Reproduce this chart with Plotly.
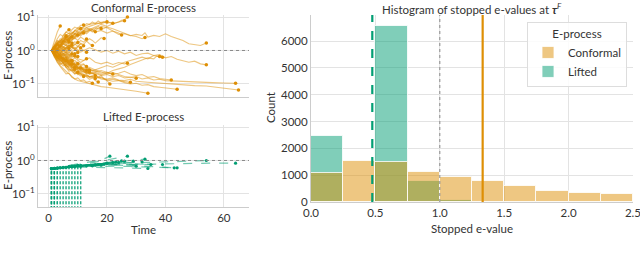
import plotly.graph_objects as go

# ---------------- DATA ----------------
# Conformal e-process paths starting at time 1: log10 e-values at consecutive integer times
conformal_short = [
    [0, 0.3, 0.55, 0.73],
    [0, 0.15, 0.3, 0.25, 0.45, 0.55, 0.5, 0.62, 0.7, 0.66, 0.75, 0.76],
    [0, 0.1, 0.2, 0.12, 0.28, 0.35, 0.3, 0.42, 0.5, 0.45, 0.52, 0.6, 0.55, 0.62, 0.58, 0.56],
    [0, -0.1, -0.2, -0.15, -0.3, -0.38, -0.32, -0.45, -0.5],
    [0, -0.15, -0.28, -0.4, -0.36, -0.5, -0.58, -0.55, -0.65, -0.72, -0.7, -0.78],
    [0, 0.08, 0.0, 0.12, 0.2, 0.15, 0.25],
    [0, -0.05, 0.05, -0.08, 0.02, -0.1, -0.04, -0.15, -0.1],
    [0, 0.12, 0.22, 0.3, 0.26, 0.38, 0.45, 0.4],
    [0, -0.12, -0.05, -0.18, -0.25, -0.2, -0.32, -0.28, -0.38, -0.35, -0.42, -0.4, -0.48],
    [0, -0.18, -0.35, -0.48, -0.6, -0.7, -0.68, -0.8, -0.85, -0.82, -0.9, -0.88, -0.95, -0.92, -0.98],
    [0, 0.05, -0.05, -0.12, -0.08, -0.2, -0.15, -0.28, -0.22, -0.3, -0.36, -0.3, -0.25],
    [0, 0.1, 0.05, 0.18, 0.12, 0.05, 0.15, 0.1, 0.2, 0.12, 0.08],
    [0, -0.08, -0.18, -0.1, -0.22, -0.3, -0.4, -0.35, -0.45, -0.55, -0.5, -0.6, -0.68, -0.62, -0.7, -0.75],
    [0, 0.2, 0.35, 0.48, 0.42, 0.55, 0.62],
    [0, 0.05, 0.15, 0.08, 0.18, 0.25, 0.2, 0.32, 0.38, 0.3, 0.4, 0.35, 0.28, 0.35, 0.3, 0.22, 0.3, 0.38, 0.36],
    [0, -0.1, -0.02, 0.08, 0.0, 0.1, 0.18, 0.1, 0.05, 0.12, 0.22, 0.18, 0.28, 0.2, 0.15],
    [0, -0.15, -0.1, -0.25, -0.2, -0.32, -0.45, -0.4],
    [0, -0.2, -0.3, -0.42, -0.38, -0.52, -0.62, -0.58, -0.7, -0.65],
    [0, 0.1, -0.02, -0.1, 0.02, -0.06, 0.05, 0.12, 0.05, -0.02, 0.06, 0.0, -0.05],
    [0, 0.05, 0.18, 0.1, 0.22, 0.3, 0.42, 0.35, 0.48, 0.55, 0.5, 0.6, 0.68, 0.62, 0.55, 0.65, 0.72, 0.66],
    [0, -0.05, -0.15, -0.08, -0.18, -0.12, -0.25, -0.3],
    [0, 0.08, 0.18, 0.12, 0.05, -0.02, 0.06],
    [0, -0.12, -0.22, -0.15, -0.28, -0.22, -0.35, -0.45, -0.4, -0.5, -0.6, -0.55, -0.62, -0.7, -0.65,
     -0.72, -0.8, -0.75, -0.85, -0.9, -1.0],
    [0, -0.06, 0.04, 0.12, 0.2, 0.15, 0.08, 0.16],
    [0, 0.02, -0.1, -0.2, -0.12, -0.05, -0.15, -0.1],
    [0, 0.15, 0.28, 0.22, 0.35, 0.45, 0.52, 0.48, 0.6, 0.68, 0.62, 0.72, 0.8, 0.78, 0.85, 0.8, 0.88, 0.82,
     0.86, 0.8, 0.84, 0.81],
    [0, -0.1, -0.22, -0.32, -0.28, -0.4, -0.35, -0.48, -0.55],
    [0, 0.06, 0.14, 0.08, 0.02, 0.1, 0.04, -0.04, 0.03, -0.06],
    [0, -0.04, -0.12, -0.2, -0.28, -0.25, -0.35, -0.3, -0.42, -0.5, -0.46, -0.56, -0.6],
    [0, 0.12, 0.06, 0.16, 0.26, 0.32, 0.28],
    [0, -0.08, 0.02, -0.06, -0.16, -0.1, -0.2, -0.14, -0.22, -0.18],
    [0, 0.04, 0.12, 0.2, 0.3, 0.25, 0.35, 0.3, 0.4, 0.48, 0.44, 0.52],
    [0, -0.14, -0.26, -0.2, -0.34, -0.3, -0.42, -0.52, -0.48, -0.58, -0.66, -0.62, -0.72, -0.8, -0.76, -0.84],
    [0, 0.02, 0.1, 0.04, -0.04, 0.06, 0.14, 0.08, 0.18, 0.24],
    [0, 0.1, 0.22, 0.35, 0.3, 0.42],
    [0, -0.08, -0.16, -0.26, -0.2, -0.3],
    [0, 0.04, -0.06, -0.14, -0.24, -0.34, -0.3, -0.4, -0.48, -0.44, -0.52],
    [0, 0.14, 0.24, 0.18, 0.3, 0.24, 0.36, 0.44, 0.52, 0.46],
    [0, -0.06, 0.06, 0.14, 0.1, 0.02, 0.1, 0.18, 0.26, 0.2, 0.3, 0.25, 0.34],
    [0, -0.16, -0.3, -0.26, -0.4, -0.5, -0.46, -0.56, -0.64, -0.7, -0.76, -0.72, -0.8, -0.86, -0.82, -0.9, -0.94],
    [0, 0.08, 0.16, 0.26, 0.36, 0.44],
    [0, -0.02, -0.1, -0.04, -0.14, -0.24, -0.2, -0.3],
    [0, 0.06, -0.04, 0.04, 0.12, 0.06, 0.16, 0.1, 0.02, 0.1, 0.2, 0.14],
    [0, -0.1, -0.18, -0.28, -0.36, -0.32, -0.42, -0.38, -0.46, -0.54, -0.5, -0.6, -0.66, -0.64],
    [0, 0.1, 0.2, 0.3, 0.38, 0.34, 0.46, 0.55, 0.5, 0.6, 0.66],
    [0, -0.04, 0.06, 0.0, -0.1, -0.04, -0.12, -0.2, -0.16],
    [0, 0.02, -0.08, -0.16, -0.1, -0.18, -0.26, -0.34, -0.3, -0.38, -0.46, -0.42, -0.5, -0.58],
    [0, 0.12, 0.04, 0.14, 0.08, 0.18, 0.12, 0.22],
    [0, -0.12, -0.2, -0.14, -0.24, -0.18, -0.28, -0.36, -0.44, -0.4],
]

# Longer conformal paths: (times, log10 e-values)
conformal_long = [
    ([1, 2, 3, 4, 5, 6, 7, 8, 9, 10, 11, 12, 13, 14, 15, 16, 18, 20, 22, 24, 26, 28, 30, 32, 33, 34, 36,
      38, 40, 42, 44, 46, 48, 50, 52, 54],
     [0, 0.1, 0.2, 0.15, 0.28, 0.35, 0.3, 0.42, 0.48, 0.4, 0.5, 0.56, 0.5, 0.58, 0.62, 0.55, 0.6, 0.52,
      0.58, 0.48, 0.5, 0.44, 0.48, 0.45, 0.53, 0.4, 0.45, 0.42, 0.5, 0.42, 0.35, 0.3, 0.2, 0.18, 0.15, 0.22]),
    ([1, 2, 3, 4, 5, 6, 7, 8, 9, 10, 11, 12, 14, 16, 18, 20, 22, 24, 26, 28, 30, 32, 34, 36, 38, 40, 42,
      44, 46, 48, 50, 52, 54],
     [0, -0.05, 0.05, -0.02, 0.08, 0.02, -0.06, 0.04, 0.1, 0.02, -0.05, 0.0, 0.08, 0.02, -0.05, 0.0,
      -0.08, -0.02, -0.1, -0.05, -0.15, -0.1, -0.08, -0.15, -0.12, -0.22, -0.18, -0.26, -0.3, -0.35,
      -0.32, -0.4, -0.43]),
    ([1, 2, 3, 4, 5, 6, 7, 8, 9, 10, 12, 14, 16, 18, 20, 22, 24, 26, 28, 30, 32, 34, 36, 38, 40, 44, 48,
      52, 56, 60, 64],
     [0, -0.1, -0.2, -0.3, -0.25, -0.38, -0.45, -0.42, -0.55, -0.6, -0.65, -0.7, -0.68, -0.75, -0.72,
      -0.78, -0.75, -0.82, -0.8, -0.78, -0.85, -0.82, -0.88, -0.86, -0.9, -0.92, -0.93, -0.95, -0.96,
      -0.97, -0.98]),
    ([1, 2, 3, 4, 5, 6, 7, 8, 9, 10, 12, 14, 16, 18, 20, 22, 24, 26, 28, 30, 34, 38, 42, 46, 50, 54, 58,
      62, 65],
     [0, -0.15, -0.22, -0.35, -0.3, -0.45, -0.52, -0.6, -0.58, -0.68, -0.72, -0.78, -0.75, -0.82, -0.85,
      -0.82, -0.88, -0.9, -0.86, -0.92, -0.95, -0.98, -1.0, -1.02, -1.05, -1.06, -1.1, -1.14, -1.18]),
    ([1, 2, 3, 4, 5, 6, 7, 8, 9, 10, 12, 14, 16, 18, 20, 22, 24, 26, 28, 30, 32, 34, 36, 38, 40, 42, 44],
     [0, -0.12, -0.25, -0.2, -0.35, -0.42, -0.5, -0.48, -0.6, -0.65, -0.7, -0.78, -0.82, -0.8, -0.88,
      -0.92, -0.9, -0.96, -1.0, -0.98, -1.04, -1.02, -1.08, -1.1, -1.12, -1.14, -1.16]),
    ([1, 2, 3, 4, 5, 6, 7, 8, 9, 10, 12, 14, 16, 18, 20, 22, 24, 26, 28, 30, 32, 34],
     [0, -0.2, -0.35, -0.45, -0.55, -0.62, -0.7, -0.78, -0.85, -0.9, -0.95, -1.0, -1.05, -1.08, -1.1,
      -1.12, -1.15, -1.18, -1.2, -1.22, -1.25, -1.28]),
    ([1, 2, 3, 4, 5, 6, 7, 8, 9, 10, 12, 14, 16, 18, 20, 22, 24, 26, 28, 30, 32, 34, 36, 38, 40, 42],
     [0, -0.05, -0.15, -0.22, -0.3, -0.28, -0.4, -0.48, -0.55, -0.52, -0.6, -0.55, -0.62, -0.68, -0.65,
      -0.72, -0.68, -0.62, -0.7, -0.75, -0.72, -0.8, -0.78, -0.84, -0.86, -0.88]),
    ([1, 2, 3, 4, 5, 6, 7, 8, 9, 10, 12, 14, 16, 18, 20, 22, 24, 26, 28, 30],
     [0, -0.1, -0.05, -0.18, -0.28, -0.22, -0.35, -0.42, -0.38, -0.5, -0.55, -0.62, -0.58, -0.65, -0.7,
      -0.66, -0.72, -0.78, -0.8, -0.83]),
    ([1, 2, 3, 4, 5, 6, 7, 8, 9, 10, 12, 14, 16, 18, 20, 22, 24, 26, 27],
     [0, 0.05, -0.05, 0.02, -0.08, -0.15, -0.1, -0.2, -0.15, -0.25, -0.3, -0.22, -0.35, -0.4, -0.35,
      -0.42, -0.36, -0.4, -0.38]),
    ([1, 2, 3, 4, 5, 6, 7, 8, 9, 10, 12, 14, 16, 18, 20, 22, 24, 26, 28, 30, 32, 34, 36, 38],
     [0, -0.08, -0.15, -0.25, -0.2, -0.32, -0.38, -0.45, -0.4, -0.5, -0.55, -0.5, -0.58, -0.52, -0.45,
      -0.5, -0.42, -0.35, -0.3, -0.25, -0.2, -0.25, -0.15, -0.18]),
    ([1, 2, 3, 4, 5, 6, 7, 8, 9, 10, 12, 14, 16, 18, 20, 22, 24, 26, 28, 30, 32, 34, 36, 37, 39],
     [0, -0.1, -0.2, -0.3, -0.38, -0.45, -0.4, -0.52, -0.6, -0.55, -0.62, -0.7, -0.65, -0.72, -0.68,
      -0.6, -0.55, -0.5, -0.42, -0.35, -0.3, -0.22, -0.25, -0.17, -0.2]),
    ([1, 2, 3, 4, 5, 6, 7, 8, 9, 10, 12, 14, 16, 18, 20, 22, 24, 26, 28, 30, 32, 33],
     [0, 0.1, 0.05, 0.18, 0.25, 0.2, 0.32, 0.4, 0.35, 0.45, 0.52, 0.6, 0.68, 0.62, 0.7, 0.65, 0.58,
      0.52, 0.45, 0.42, 0.35, 0.39]),
    ([1, 2, 3, 4, 5, 6, 7, 8, 9, 10, 12, 14, 16, 18, 20, 22, 24, 25, 26, 27],
     [0, 0.08, 0.18, 0.12, 0.22, 0.3, 0.38, 0.32, 0.42, 0.5, 0.55, 0.62, 0.7, 0.78, 0.72, 0.8, 0.85,
      0.9, 0.92, 1.0]),
    ([1, 2, 3, 4, 5, 6, 7, 8, 9, 10, 12, 14, 16, 18, 20, 22, 24, 26],
     [0, 0.12, 0.22, 0.3, 0.25, 0.38, 0.45, 0.5, 0.58, 0.62, 0.7, 0.78, 0.82, 0.8, 0.86, 0.8, 0.85, 0.89]),
    ([1, 2, 3, 4, 5, 6, 7, 8, 9, 10, 12, 14, 16, 18, 20, 22, 24, 25],
     [0, 0.05, 0.15, 0.25, 0.2, 0.3, 0.38, 0.45, 0.4, 0.52, 0.6, 0.66, 0.6, 0.72, 0.68, 0.58, 0.52, 0.46]),
    ([1, 2, 3, 4, 5, 6, 7, 8, 9, 10, 12, 14, 16, 18, 20],
     [0, 0.1, 0.2, 0.15, 0.3, 0.4, 0.35, 0.5, 0.6, 0.55, 0.65, 0.72, 0.78, 0.84, 0.86]),
    ([1, 2, 3, 4, 5, 6, 7, 8, 9, 10, 12, 14, 16, 18, 20, 22, 24, 26, 28],
     [0, -0.14, -0.24, -0.36, -0.46, -0.42, -0.55, -0.62, -0.7, -0.66, -0.75, -0.8, -0.78, -0.85,
      -0.88, -0.86, -0.9, -0.93, -0.95]),
    ([1, 2, 3, 4, 5, 6, 7, 8, 9, 10, 12, 14, 16, 18, 20, 22],
     [0, -0.06, -0.16, -0.12, -0.24, -0.32, -0.28, -0.4, -0.46, -0.52, -0.5, -0.58, -0.64, -0.6, -0.66, -0.7]),
]

# Lifted e-process paths: (times, log10 e-values); the process is 0 before its first time
lifted_paths = [
    ([1, 3, 5, 7, 9, 11, 13, 15, 17, 19, 21], [-0.24, -0.21, -0.18, -0.16, -0.13, -0.1, -0.07, -0.04, 0.0, 0.05, 0.13]),
    ([2, 4, 6, 8, 10, 12, 14, 16, 18, 20, 22, 24, 26, 27], [-0.23, -0.2, -0.18, -0.15, -0.13, -0.1, -0.08, -0.05, -0.02, 0.02, 0.05, 0.08, 0.1, 0.13]),
    ([1, 4, 8, 12, 16, 20, 25, 30, 35, 40, 45, 50, 54], [-0.24, -0.2, -0.17, -0.14, -0.12, -0.1, -0.08, -0.06, -0.05, -0.04, -0.03, -0.01, 0.0]),
    ([3, 6, 10, 15, 20, 25, 30, 35, 40, 45, 50, 55, 60, 64], [-0.22, -0.2, -0.17, -0.15, -0.13, -0.12, -0.11, -0.1, -0.1, -0.09, -0.09, -0.08, -0.08, -0.08]),
    ([1, 4, 8, 12, 16, 20, 24, 28, 32, 36, 40, 44], [-0.25, -0.22, -0.2, -0.18, -0.17, -0.16, -0.17, -0.18, -0.19, -0.2, -0.21, -0.22]),
    ([2, 5, 9, 13, 17, 21, 25, 29, 33, 37, 39], [-0.24, -0.21, -0.18, -0.16, -0.14, -0.13, -0.12, -0.12, -0.11, -0.12, -0.12]),
    ([4, 7, 10, 14, 18, 22, 26, 30, 34], [-0.22, -0.2, -0.19, -0.2, -0.21, -0.22, -0.22, -0.23, -0.24]),
    ([5, 8, 11, 14, 17, 20, 23, 26, 29, 32, 35], [-0.2, -0.17, -0.14, -0.12, -0.1, -0.09, -0.08, -0.08, -0.1, -0.11, -0.12]),
    ([6, 9, 12, 15, 18, 21, 24], [-0.2, -0.18, -0.15, -0.12, -0.1, -0.08, -0.06]),
    ([7, 10, 13, 16, 19, 22, 25, 28, 31, 33], [-0.19, -0.16, -0.13, -0.1, -0.07, -0.04, -0.02, 0.0, 0.02, 0.04]),
    ([8, 11, 14, 17, 20, 23], [-0.18, -0.15, -0.12, -0.1, -0.08, -0.05]),
    ([9, 12, 15, 18, 20], [-0.17, -0.14, -0.12, -0.1, -0.09]),
    ([10, 13, 16, 19, 22], [-0.16, -0.13, -0.1, -0.08, -0.06]),
    ([11, 14, 17, 20], [-0.15, -0.12, -0.1, -0.08]),
    ([1, 3, 5, 7, 9, 11, 13, 15], [-0.25, -0.23, -0.21, -0.2, -0.19, -0.18, -0.17, -0.16]),
    ([1, 3, 5, 7, 9, 11], [-0.24, -0.22, -0.21, -0.19, -0.18, -0.17]),
    ([2, 4, 6, 8, 10, 12, 14, 16, 18], [-0.24, -0.22, -0.21, -0.2, -0.18, -0.17, -0.16, -0.15, -0.14]),
    ([3, 5, 7, 9, 11, 13], [-0.23, -0.21, -0.2, -0.19, -0.17, -0.16]),
    ([4, 6, 8, 10, 12, 14, 16, 18, 20, 22, 24, 26, 28, 30], [-0.22, -0.21, -0.19, -0.18, -0.16, -0.15, -0.14, -0.13, -0.12, -0.13, -0.14, -0.15, -0.16, -0.17]),
    ([5, 7, 9, 11, 13, 15, 17, 19], [-0.21, -0.19, -0.17, -0.16, -0.14, -0.13, -0.12, -0.11]),
    ([6, 8, 10, 12, 14, 16], [-0.2, -0.19, -0.17, -0.15, -0.14, -0.13]),
    ([7, 9, 11, 13, 15, 17, 19, 21, 23, 25], [-0.19, -0.17, -0.15, -0.13, -0.11, -0.09, -0.07, -0.05, -0.03, -0.01]),
    ([8, 10, 12, 14, 16, 18, 20, 22, 24, 26, 28, 30, 32], [-0.18, -0.16, -0.15, -0.13, -0.12, -0.11, -0.1, -0.09, -0.08, -0.07, -0.06, -0.05, -0.04]),
    ([9, 11, 13, 15, 17], [-0.17, -0.16, -0.14, -0.13, -0.12]),
    ([10, 12, 14, 16, 18, 20, 22, 24, 26], [-0.16, -0.15, -0.13, -0.12, -0.1, -0.08, -0.06, -0.04, -0.02]),
    ([11, 13, 15, 17, 19, 21, 23, 25, 27, 29], [-0.15, -0.13, -0.12, -0.1, -0.09, -0.07, -0.06, -0.04, -0.03, -0.02]),
    ([2, 6, 10, 14, 18, 22, 26, 30, 34, 38, 42, 43], [-0.23, -0.2, -0.17, -0.15, -0.13, -0.12, -0.14, -0.16, -0.18, -0.2, -0.22, -0.22]),
    ([1, 2, 3, 4, 5, 6, 7, 8], [-0.25, -0.24, -0.22, -0.21, -0.2, -0.19, -0.18, -0.17]),
    ([2, 3, 4, 5, 6, 7], [-0.24, -0.23, -0.22, -0.2, -0.19, -0.18]),
    ([3, 4, 5, 6, 7, 8, 9, 10], [-0.23, -0.22, -0.21, -0.2, -0.18, -0.17, -0.16, -0.15]),
]
lifted_zero_display = 0.035   # stand-in for e-value 0 (just below the log axis range)

# Histogram of stopped e-values (bin width 0.25)
bin_left = [0.0, 0.25, 0.5, 0.75, 1.0, 1.25, 1.5, 1.75, 2.0, 2.25]
conformal_counts = [1080, 1540, 1490, 1130, 945, 795, 585, 410, 325, 300]
lifted_counts = [2470, 0, 6570, 780, 80, 0, 0, 0, 0, 0]
lifted_mean = 0.476
conformal_mean = 1.333
null_line = 1.0

# ---------------- STYLE ----------------
ORANGE = "#de8f05"
GREEN = "#029e73"
FONT = "Lato"
TXT = "#333333"
GRID = "#e3e3e3"
W, H = 640, 255


def px_x(p):
    return p / W


def px_y(p):
    return 1 - p / H


fig = go.Figure()

# Conformal paths (top-left)
all_conf = [(list(range(1, len(v) + 1)), v) for v in conformal_short] + conformal_long
for t, lv in all_conf:
    ev = [10 ** v for v in lv]
    fig.add_trace(go.Scatter(x=t, y=ev, mode="lines", line=dict(color=ORANGE, width=1.1),
                             opacity=0.5, showlegend=False, hoverinfo="skip",
                             xaxis="x", yaxis="y"))
fig.add_trace(go.Scatter(x=[t[-1] for t, _ in all_conf], y=[10 ** lv[-1] for _, lv in all_conf],
                         mode="markers", marker=dict(color=ORANGE, size=3.5), showlegend=False,
                         hoverinfo="skip", xaxis="x", yaxis="y"))

# Lifted paths (bottom-left): vertical jump from 0, then the path
for t, lv in lifted_paths:
    fig.add_trace(go.Scatter(x=[t[0], t[0]], y=[lifted_zero_display, 10 ** lv[0]], mode="lines",
                             line=dict(color=GREEN, width=1.3, dash="3px,2px"), opacity=0.6,
                             showlegend=False, hoverinfo="skip", cliponaxis=True,
                             xaxis="x2", yaxis="y2"))
    fig.add_trace(go.Scatter(x=list(t), y=[10 ** v for v in lv], mode="lines",
                             line=dict(color=GREEN, width=1.2, dash="dash"),
                             opacity=0.55, showlegend=False, hoverinfo="skip",
                             xaxis="x2", yaxis="y2"))
fig.add_trace(go.Scatter(x=[t[-1] for t, _ in lifted_paths], y=[10 ** lv[-1] for _, lv in lifted_paths],
                         mode="markers", marker=dict(color=GREEN, size=3.2), showlegend=False,
                         hoverinfo="skip", xaxis="x2", yaxis="y2"))
fig.add_trace(go.Scatter(x=[t[0] for t, _ in lifted_paths], y=[10 ** lv[0] for _, lv in lifted_paths],
                         mode="markers", marker=dict(color=GREEN, size=3), showlegend=False,
                         hoverinfo="skip", xaxis="x2", yaxis="y2"))

# Histogram (Lifted drawn first, Conformal on top -> olive overlap)
centers = [b + 0.125 for b in bin_left]
fig.add_trace(go.Bar(x=centers, y=lifted_counts, width=0.25, name="Lifted", legendrank=2,
                     marker=dict(color="rgba(2,158,115,0.5)", line=dict(color="rgba(255,255,255,0.8)", width=1)),
                     xaxis="x3", yaxis="y3", hoverinfo="skip"))
fig.add_trace(go.Bar(x=centers, y=conformal_counts, width=0.25, name="Conformal", legendrank=1,
                     marker=dict(color="rgba(222,143,5,0.5)", line=dict(color="rgba(255,255,255,0.8)", width=1)),
                     xaxis="x3", yaxis="y3", hoverinfo="skip"))

shapes = []
for yref in ("y", "y2"):
    xr = "x" if yref == "y" else "x2"
    shapes.append(dict(type="line", xref=xr + " domain", yref=yref, x0=0, x1=1, y0=1, y1=1,
                       line=dict(color="#888888", width=1, dash="dot"), layer="above"))
shapes.append(dict(type="line", xref="x3", yref="y3 domain", x0=lifted_mean, x1=lifted_mean, y0=0, y1=1,
                   line=dict(color=GREEN, width=2.2, dash="dash")))
shapes.append(dict(type="line", xref="x3", yref="y3 domain", x0=null_line, x1=null_line, y0=0, y1=1,
                   line=dict(color="#999999", width=1.2, dash="dot")))
shapes.append(dict(type="line", xref="x3", yref="y3 domain", x0=conformal_mean, x1=conformal_mean, y0=0, y1=1,
                   line=dict(color=ORANGE, width=2.2)))

axis_common = dict(showline=True, linecolor="#cccccc", linewidth=1, gridcolor=GRID, gridwidth=1,
                   zeroline=False, ticks="", automargin=False,
                   tickfont=dict(family=FONT, size=11.5, color=TXT))

log_ticks = dict(type="log", range=[-1.39, 1.06], tickvals=[0.1, 1, 10],
                 ticktext=["10<sup>−1</sup>", "10<sup>0</sup>", "10<sup>1</sup>"])

left_dom = [px_x(38), px_x(249)]
fig.update_layout(
    width=W, height=H, margin=dict(l=0, r=0, t=0, b=0, pad=0),
    paper_bgcolor="white", plot_bgcolor="white",
    barmode="overlay", bargap=0,
    font=dict(family=FONT, color=TXT, size=11.5),
    xaxis=dict(domain=left_dom, anchor="y", range=[-3.6, 68.6], tickvals=[0, 20, 40, 60],
               showticklabels=False, **axis_common),
    yaxis=dict(domain=[px_y(97), px_y(15)], anchor="x", **log_ticks, **axis_common),
    xaxis2=dict(domain=left_dom, anchor="y2", range=[-3.6, 68.6], tickvals=[0, 20, 40, 60],
                **axis_common),
    yaxis2=dict(domain=[px_y(207), px_y(125)], anchor="x2", **log_ticks, **axis_common),
    xaxis3=dict(domain=[px_x(311), px_x(633)], anchor="y3", range=[0, 2.5005],
                tickvals=[0, 0.5, 1.0, 1.5, 2.0, 2.5], ticktext=["0.0", "0.5", "1.0", "1.5", "2.0", "2.5"],
                ticklabeloverflow="allow", **axis_common),
    yaxis3=dict(domain=[px_y(202), px_y(15)], anchor="x3", range=[0, 6970],
                tickvals=[0, 1000, 2000, 3000, 4000, 5000, 6000], **axis_common),
    shapes=shapes,
    legend=dict(x=px_x(627), y=px_y(22), xanchor="right", yanchor="top",
                bgcolor="rgba(255,255,255,0.85)", bordercolor="#dddddd", borderwidth=1,
                font=dict(family=FONT, size=11.5, color=TXT),
                title=dict(text="E-process", side="top center", font=dict(family=FONT, size=11.5, color=TXT)),
                itemwidth=30, tracegroupgap=0),
)

ann = [
    dict(text="Conformal E-process", x=px_x(143.5), y=px_y(7)),
    dict(text="Lifted E-process", x=px_x(143.5), y=px_y(117)),
    dict(text="Histogram of stopped e-values at <b><i>τ</i></b><sup><i>F</i></sup>", x=px_x(472), y=px_y(8)),
    dict(text="Time", x=px_x(143.5), y=px_y(229)),
    dict(text="Stopped e-value", x=px_x(472), y=px_y(228)),
    dict(text="E-process", x=px_x(7), y=px_y(56), textangle=-90),
    dict(text="E-process", x=px_x(7), y=px_y(166), textangle=-90),
    dict(text="Count", x=px_x(270), y=px_y(108), textangle=-90),
]
for a in ann:
    fig.add_annotation(xref="paper", yref="paper", showarrow=False, xanchor="center", yanchor="middle",
                       font=dict(family=FONT, size=11.5, color=TXT), **a)

fig.write_html("out.html", config={"displayModeBar": False},
               post_script="document.body.style.margin='0px';document.body.style.overflow='hidden';")
